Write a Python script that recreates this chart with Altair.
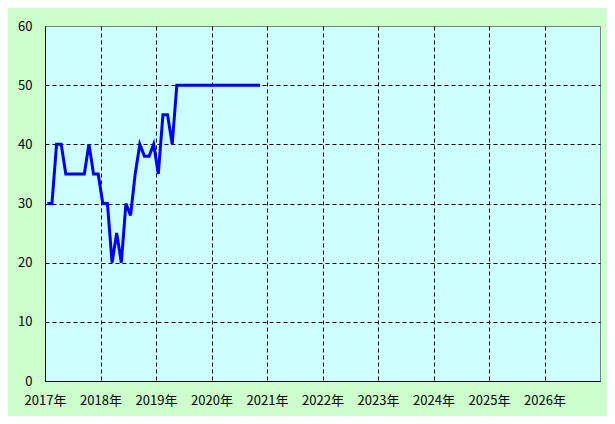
import altair as alt
import pandas as pd

# Monthly values (mid-month points), Jan 2017 .. Nov 2020
start_year = 2017
values_2017 = [30, 30, 40, 40, 35, 35, 35, 35, 35, 40, 35, 35]
values_2018 = [30, 30, 20, 25, 20, 30, 28, 35, 40, 38, 38, 40]
values_2019 = [35, 45, 45, 40, 50, 50, 50, 50, 50, 50, 50, 50]
values_2020 = [50, 50, 50, 50, 50, 50, 50, 50, 50, 50, 50]

year_ticks = [2017, 2018, 2019, 2020, 2021, 2022, 2023, 2024, 2025, 2026]
y_ticks = [0, 10, 20, 30, 40, 50, 60]

values = values_2017 + values_2018 + values_2019 + values_2020
rows = []
for i, v in enumerate(values):
    year = start_year + i // 12
    month = i % 12 + 1
    rows.append({"t": year + (month - 0.5) / 12.0, "v": v})
df = pd.DataFrame(rows)

FONT = "Noto Sans CJK JP"

chart = alt.Chart(df).mark_line(color="#0000ff", strokeWidth=3, clip=True).encode(
    x=alt.X(
        "t:Q",
        scale=alt.Scale(domain=[2017, 2027], nice=False, zero=False),
        axis=alt.Axis(
            values=year_ticks,
            labelExpr="datum.value + '年'",
            title=None,
            grid=True,
            gridColor="#000000",
            gridDash=[4, 3],
            gridWidth=1,
            ticks=False,
            tickSize=0,
            domainColor="#000000",
            domainWidth=1,
            labelPadding=13,
            labelFlush=False,
            labelFont=FONT,
            labelFontSize=13,
            labelColor="#000000",
            labelAlign="center",
        ),
    ),
    y=alt.Y(
        "v:Q",
        scale=alt.Scale(domain=[0, 60], nice=False),
        axis=alt.Axis(
            values=y_ticks,
            title=None,
            grid=True,
            gridColor="#000000",
            gridDash=[4, 3],
            gridWidth=1,
            gridOpacity={"condition": {"test": "datum.value >= 60", "value": 0}, "value": 1},
            ticks=False,
            tickSize=0,
            domainColor="#000000",
            domainWidth=1,
            labelPadding=13,
            labelFlush=False,
            labelFont=FONT,
            labelFontSize=13,
            labelColor="#000000",
        ),
    ),
).properties(
    width=555,
    height=355,
    autosize=alt.AutoSizeParams(type="none"),
    padding={"left": 37, "top": 18, "right": 7, "bottom": 35},
    background="#ccffcc",
).configure_view(
    fill="#ccffff",
    stroke="#808080",
    strokeWidth=1,
)

chart.save("out.html", embed_options={"renderer": "svg", "actions": False})
